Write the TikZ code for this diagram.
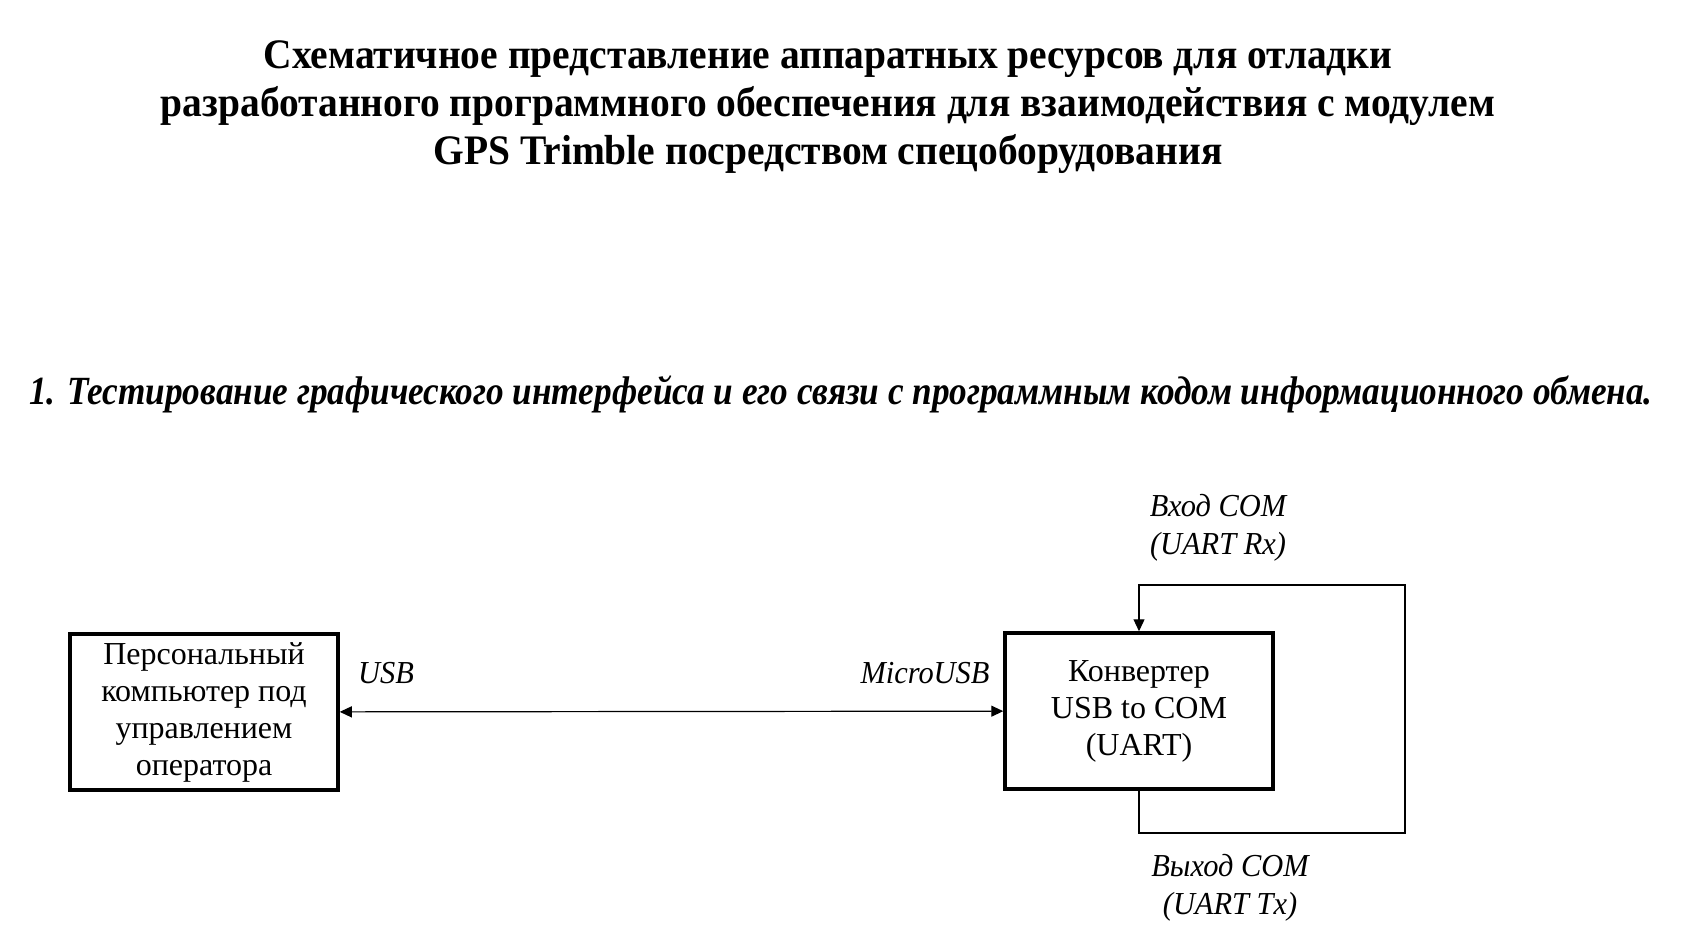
\documentclass[tikz,border=0pt]{standalone}
\usepackage{fontspec}
\setmainfont{Liberation Serif}
\newfontfamily\titlefont[FakeStretch=0.94]{Liberation Serif}
\newfontfamily\taskfont[FakeStretch=0.88]{Liberation Serif}
\newfontfamily\tagfont[FakeStretch=0.95]{Liberation Serif}
\usetikzlibrary{arrows.meta}

\begin{document}
\begin{tikzpicture}[x=0.5pt,y=-0.5pt,
				   block/.style={draw,line width=1.75pt,minimum width=134pt,minimum height=78pt,align=center,inner sep=0pt,font=\fontsize{16}{18.5}\selectfont},
				   tag/.style={align=center,font=\tagfont\fontsize{16}{19}\selectfont\itshape},
				   link/.style={line width=0.6pt,-{Triangle[length=6pt,width=5.5pt]}}]
\useasboundingbox (0,0) rectangle (1695,939);
\node[align=center,font=\titlefont\fontsize{21}{24}\selectfont\bfseries] (title) at (828,107)
	{Схематичное представление аппаратных ресурсов для отладки\\
	 разработанного программного обеспечения для взаимодействия с модулем\\
	 GPS Trimble посредством спецоборудования};
\node[font=\taskfont\fontsize{20}{24}\selectfont\bfseries\itshape] (task) at (841,394)
	{1. Тестирование графического интерфейса и его связи с программным кодом информационного обмена.};
\node[block] (pc) at (204,712) {Персональный\\компьютер под\\управлением\\оператора};
\node[block] (conv) at (1139,711) {Конвертер\\USB to COM\\(UART)};
\node[tag] (usb) at (386,673) {USB};
\node[tag] (micro) at (925,673) {MicroUSB};
\node[tag] (rx) at (1218,528) {Вход COM\\(UART Rx)};
\node[tag] (tx) at (1230,888) {Выход COM\\(UART Tx)};
\coordinate (low) at (1405,833);
\coordinate (high) at (1139,585);
\draw[link,{Triangle[length=6pt,width=5.5pt]}-{Triangle[length=6pt,width=5.5pt]}] (pc) -- (conv);
\draw[link] (conv.south) |- (low) |- (high) -- (conv.north);
\end{tikzpicture}
\end{document}
